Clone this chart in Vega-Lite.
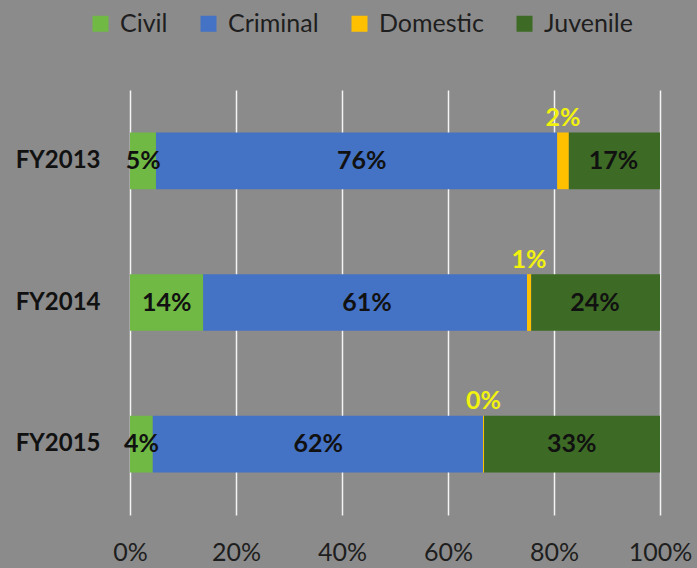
{
  "$schema": "https://vega.github.io/schema/vega-lite/v6.json",
  "width": 530,
  "height": 425,
  "autosize": "none",
  "padding": {"left": 130, "top": 90, "right": 37, "bottom": 53},
  "background": "#8b8b8b",
  "config": {
    "view": {"stroke": null},
    "font": "Lato",
    "axis": {"grid": true, "gridColor": "#ffffff", "gridWidth": 1.5, "gridOpacity": 0.9, "domain": false, "ticks": false}
  },
  "data": {
    "values": [
      {"year": "FY2013", "type": "Civil", "share": 0.049},
      {"year": "FY2013", "type": "Criminal", "share": 0.757},
      {"year": "FY2013", "type": "Domestic", "share": 0.022},
      {"year": "FY2013", "type": "Juvenile", "share": 0.172},
      {"year": "FY2014", "type": "Civil", "share": 0.138},
      {"year": "FY2014", "type": "Criminal", "share": 0.611},
      {"year": "FY2014", "type": "Domestic", "share": 0.008},
      {"year": "FY2014", "type": "Juvenile", "share": 0.243},
      {"year": "FY2015", "type": "Civil", "share": 0.043},
      {"year": "FY2015", "type": "Criminal", "share": 0.623},
      {"year": "FY2015", "type": "Domestic", "share": 0.002},
      {"year": "FY2015", "type": "Juvenile", "share": 0.332}
    ]
  },
  "encoding": {
    "y": {
      "field": "year", "type": "nominal", "title": null,
      "scale": {"paddingInner": 0.6, "paddingOuter": 0.3},
      "axis": {"grid": false, "labelFontSize": 24, "labelFontWeight": "bold", "labelColor": "#111111", "labelPadding": 30}
    }
  },
  "layer": [
    {
      "mark": {"type": "bar"},
      "encoding": {
        "x": {
          "field": "share", "type": "quantitative", "stack": "normalize", "title": null,
          "scale": {"domain": [0, 1], "nice": false},
          "axis": {"format": ".0%", "values": [0, 0.2, 0.4, 0.6, 0.8, 1], "labelFontSize": 25, "labelColor": "#1e1e1e", "labelPadding": 25, "labelFlush": false}
        },
        "color": {
          "field": "type", "type": "nominal", "title": null,
          "scale": {"domain": ["Civil", "Criminal", "Domestic", "Juvenile"], "range": ["#6fb944", "#4472c4", "#ffc000", "#3d6b25"]},
          "legend": {
            "orient": "none", "legendX": -42, "legendY": -79, "direction": "horizontal",
            "symbolType": "square", "symbolSize": 256, "symbolStrokeWidth": 0, "symbolOpacity": 1,
            "labelFontSize": 25, "labelColor": "#1e1e1e", "labelOffset": 7, "columnPadding": 28
          }
        }
      }
    },
    {
      "transform": [{"filter": "datum.type !== 'Domestic'"}],
      "mark": {"type": "text", "fontSize": 25, "fontWeight": "bold", "color": "#111111", "baseline": "middle"},
      "encoding": {
        "x": {"field": "share", "type": "quantitative", "stack": "normalize", "bandPosition": 0.5},
        "detail": {"field": "type"},
        "order": {"field": "type"},
        "text": {"field": "share", "type": "quantitative", "format": ".0%"}
      }
    },
    {
      "mark": {"type": "text", "fontSize": 25, "fontWeight": "bold", "color": "#f2f20f", "baseline": "middle", "dy": -43},
      "encoding": {
        "x": {"field": "share", "type": "quantitative", "stack": "normalize", "bandPosition": 0.5},
        "detail": {"field": "type"},
        "order": {"field": "type"},
        "text": {"condition": {"test": "datum.type === 'Domestic'", "field": "share", "type": "quantitative", "format": ".0%"}, "value": ""}
      }
    }
  ]
}
